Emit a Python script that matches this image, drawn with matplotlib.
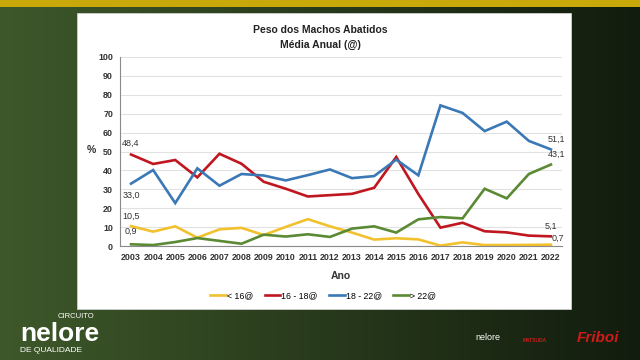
import numpy as np
import matplotlib
matplotlib.use('Agg')
import matplotlib.pyplot as plt
from matplotlib.lines import Line2D

plt.rcParams['font.family'] = ['Liberation Sans', 'DejaVu Sans']

anos = [str(a) for a in range(2003, 2023)]

# % dos machos abatidos por faixa de peso
menos16 = [10.5, 7.6, 10.4, 4.4, 8.8, 9.6, 5.8, 10.1, 14.2, 10.4, 7.1, 3.4, 4.1, 3.5, 0.2, 1.9, 0.5, 0.5, 0.6, 0.7]
de16a18 = [48.4, 43.4, 45.5, 36.3, 48.8, 43.5, 34.0, 30.3, 26.2, 26.9, 27.6, 30.8, 47.1, 27.5, 9.7, 12.3, 7.8, 7.2, 5.5, 5.1]
de18a22 = [33.0, 40.2, 22.7, 41.1, 31.9, 38.1, 37.3, 34.7, 37.5, 40.5, 35.9, 37.0, 45.7, 37.4, 74.4, 70.4, 60.8, 65.8, 55.6, 51.1]
mais22 = [0.9, 0.5, 2.1, 4.2, 2.7, 1.2, 6.0, 5.0, 6.2, 4.8, 9.2, 10.4, 7.1, 14.1, 15.3, 14.6, 30.3, 25.2, 38.1, 43.1]

series = [
    ('< 16@', menos16, '#f2c12e'),
    ('16 - 18@', de16a18, '#c0161f'),
    ('18 - 22@', de18a22, '#3a78b6'),
    ('> 22@', mais22, '#5b8a34'),
]

fig = plt.figure(figsize=(6.4, 3.6), dpi=100)

# fundo do slide (gradiente verde escuro)
bg = fig.add_axes([0, 0, 1, 1])
grad = np.linspace(0, 1, 256)
c1 = np.array([62, 88, 42]) / 255
c2 = np.array([18, 28, 14]) / 255
img = c1[None, :] * (1 - grad[:, None]) + c2[None, :] * grad[:, None]
bg.imshow(img[None, :, :], aspect='auto', extent=[0, 1, 0, 1])
bg.add_patch(plt.Rectangle((0, 1 - 7 / 360), 1, 7 / 360, color='#c9a80a', lw=0))
# painel branco
bg.add_patch(plt.Rectangle((77 / 640, 1 - 309 / 360), (571 - 77) / 640, (309 - 13) / 360,
                           facecolor='white', edgecolor='#cfcfcf', lw=0.6))
bg.set_xlim(0, 1)
bg.set_ylim(0, 1)
bg.axis('off')

# logos (aproximados em texto)
bg.text(20 / 640, 1 - 334 / 360, 'nelore', color='white', fontsize=19, fontweight='bold',
        va='center', ha='left')
bg.text(58 / 640, 1 - 316 / 360, 'CIRCUITO', color='white', fontsize=5.5,
        va='center', ha='left')
bg.text(20 / 640, 1 - 351 / 360, 'DE QUALIDADE', color='white', fontsize=6,
        va='center', ha='left')
bg.text(488 / 640, 1 - 338 / 360, 'nelore', color='white', fontsize=6.5,
        va='center', ha='center')
bg.text(535 / 640, 1 - 340 / 360, 'MATSUDA', color='#d01a1a', fontsize=3.5, fontweight='bold',
        va='center', ha='center')
bg.text(598 / 640, 1 - 338 / 360, 'Friboi', color='#d01a1a', fontsize=11, style='italic',
        fontweight='bold', va='center', ha='center')

ax = fig.add_axes([120 / 640, 1 - 246 / 360, (562 - 120) / 640, (246 - 57) / 360])
x = np.arange(len(anos))
for nome, vals, cor in series:
    ax.plot(x, vals, color=cor, lw=1.9, label=nome, solid_joinstyle='miter')

ax.set_xlim(-0.5, len(anos) - 0.5)
ax.set_ylim(0, 100)
ax.set_yticks(range(0, 101, 10))
ax.set_xticks(x)
ax.set_xticklabels(anos)
ax.tick_params(length=0, labelsize=6.4, colors='#333333', pad=5)
for lbl in ax.get_xticklabels() + ax.get_yticklabels():
    lbl.set_fontweight('bold')
ax.grid(axis='y', color='#e2e2e2', lw=0.8)
ax.set_axisbelow(True)
for s in ['top', 'right']:
    ax.spines[s].set_visible(False)
ax.spines['left'].set_color('#8a8a8a')
ax.spines['bottom'].set_color('#8a8a8a')
ax.set_facecolor('white')

ax.set_ylabel('%', rotation=0, fontsize=7.5, fontweight='bold', color='#333333')
ax.yaxis.set_label_coords(-0.065, 0.48)
ax.set_xlabel('Ano', fontsize=7.5, fontweight='bold', color='#333333')
ax.xaxis.set_label_coords(0.5, -0.13)

# rótulos de valores
def fmt(v):
    return f'{v:.1f}'.replace('.', ',')

lab = dict(fontsize=6.5, color='#333333')
ax.annotate(fmt(de16a18[0]), (0, de16a18[0]), xytext=(0, 5), textcoords='offset points', ha='center', va='bottom', **lab)
ax.annotate(fmt(de18a22[0]), (0, de18a22[0]), xytext=(0, -5), textcoords='offset points', ha='center', va='top', **lab)
ax.annotate(fmt(menos16[0]), (0, menos16[0]), xytext=(0, 4), textcoords='offset points', ha='center', va='bottom', **lab)
ax.annotate(fmt(mais22[0]), (0, mais22[0]), xytext=(0, 6), textcoords='offset points', ha='center', va='bottom', **lab)
n = len(anos) - 1
ax.annotate(fmt(de18a22[n]), (n, de18a22[n]), xytext=(4, 4), textcoords='offset points', ha='center', va='bottom', **lab)
ax.annotate(fmt(mais22[n]), (n, mais22[n]), xytext=(4, 4), textcoords='offset points', ha='center', va='bottom', **lab)
ax.annotate(fmt(de16a18[n]), (n, de16a18[n]), xytext=(0, 4), textcoords='offset points', ha='center', va='bottom', **lab)
ax.annotate(fmt(menos16[n]), (n, menos16[n]), xytext=(5, 1), textcoords='offset points', ha='center', va='bottom', **lab)

fig.text(320 / 640, 1 - 30 / 360, 'Peso dos Machos Abatidos', ha='center', va='center',
         fontsize=7.5, fontweight='bold', color='#222222')
fig.text(320 / 640, 1 - 45 / 360, 'Média Anual (@)', ha='center', va='center',
         fontsize=7.5, fontweight='bold', color='#222222')

handles = [Line2D([0], [0], color=c, lw=1.9) for _, _, c in series]
fig.legend(handles, [s[0] for s in series], loc='center', bbox_to_anchor=(323 / 640, 1 - 296 / 360),
           ncol=4, frameon=False, fontsize=6.3, handlelength=1.8, handletextpad=0.1, columnspacing=1.3)

fig.savefig('out.png', dpi=100)
plt.close(fig)
